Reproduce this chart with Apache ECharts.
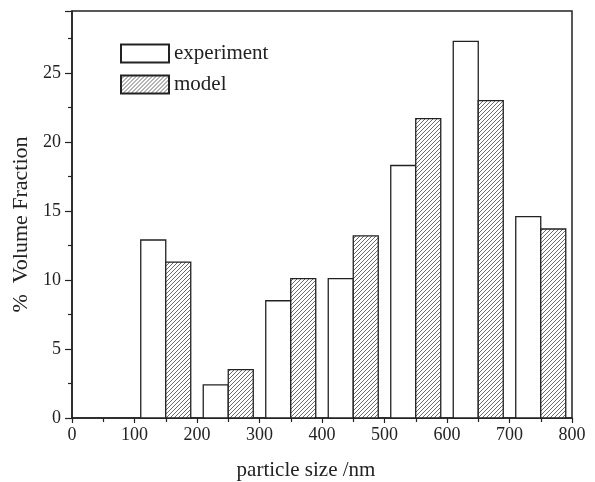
<!DOCTYPE html>
<html>
<head>
<meta charset="utf-8">
<script src="https://cdn.jsdelivr.net/npm/echarts@6/dist/echarts.min.js"></script>
<style>
  html, body { margin: 0; padding: 0; background: #fff; }
  #chart { width: 595px; height: 482px; }
</style>
</head>
<body>
<div id="chart"></div>
<script>
// Size bins (nm): each bin holds an experiment bar on its left, a model bar on its right
const binCenters = [150, 250, 350, 450, 550, 650, 750];
const halfWidth = 40;
const experiment = [12.9, 2.4, 8.5, 10.1, 18.3, 27.3, 14.6];
const model = [11.3, 3.5, 10.1, 13.2, 21.7, 23.0, 13.7];
const xTicks = [0, 100, 200, 300, 400, 500, 600, 700, 800];
const yTicks = [0, 5, 10, 15, 20, 25];

// Diagonal hatch fill for the model bars
function hatchPattern() {
  const s = 4;
  const c = document.createElement('canvas');
  c.width = s; c.height = s;
  const g = c.getContext('2d');
  g.fillStyle = '#fff';
  g.fillRect(0, 0, s, s);
  g.strokeStyle = '#444';
  g.lineWidth = 0.8;
  g.beginPath();
  g.moveTo(-1, s + 1); g.lineTo(s + 1, -1);
  g.moveTo(-1, 1); g.lineTo(1, -1);
  g.moveTo(s - 1, s + 1); g.lineTo(s + 1, s - 1);
  g.stroke();
  return { image: c, repeat: 'repeat' };
}
const hatch = hatchPattern();

const expData = binCenters.map((c, i) => [c - halfWidth, c, experiment[i]]);
const modelData = binCenters.map((c, i) => [c, c + halfWidth, model[i]]);

function renderBar(params, api) {
  const base = api.coord([api.value(0), 0]);
  const top = api.coord([api.value(1), api.value(2)]);
  return {
    type: 'rect',
    shape: { x: base[0], y: top[1], width: top[0] - base[0], height: base[1] - top[1] },
    style: api.style()
  };
}

const font = 'Liberation Serif';
const ink = '#222';
const chart = echarts.init(document.getElementById('chart'));
chart.setOption({
  animation: false,
  backgroundColor: '#fff',
  textStyle: { fontFamily: font, color: ink },
  grid: {
    left: 72, right: 23, top: 11, bottom: 64,
    outerBoundsMode: 'none',
    containLabel: false,
    show: true, borderColor: ink, borderWidth: 1.5, backgroundColor: 'transparent'
  },
  legend: {
    orient: 'vertical',
    left: 115, top: 38,
    itemWidth: 48, itemHeight: 18, itemGap: 10,
    icon: 'rect',
    textStyle: { fontFamily: font, fontSize: 21, color: ink },
    data: ['experiment', 'model']
  },
  xAxis: {
    type: 'value',
    min: xTicks[0], max: xTicks[xTicks.length - 1], interval: 100,
    name: 'particle size /nm',
    nameLocation: 'middle', nameGap: 42,
    nameTextStyle: { fontFamily: font, fontSize: 21, color: ink, padding: [0, 32, 0, 0] },
    axisLine: { show: true, lineStyle: { color: ink, width: 1.5 } },
    axisTick: { show: true, length: 5, lineStyle: { color: ink, width: 1.2 } },
    minorTick: { show: true, splitNumber: 2, length: 4, lineStyle: { color: ink, width: 1.2 } },
    axisLabel: { fontFamily: font, fontSize: 18, color: ink, margin: 8 },
    splitLine: { show: false }
  },
  yAxis: {
    type: 'value',
    min: yTicks[0], max: 29.5, interval: 5,
    name: '%  Volume Fraction',
    nameLocation: 'middle', nameGap: 40,
    nameTextStyle: { fontFamily: font, fontSize: 22, color: ink, padding: [0, 20, 0, 0] },
    axisLine: { show: true, lineStyle: { color: ink, width: 1.5 } },
    axisTick: { show: true, length: 7, lineStyle: { color: ink, width: 1.2 } },
    minorTick: { show: true, splitNumber: 2, length: 4, lineStyle: { color: ink, width: 1.2 } },
    axisLabel: {
      fontFamily: font, fontSize: 18, color: ink, margin: 11,
      formatter: v => (yTicks.indexOf(v) >= 0 ? String(v) : '')
    },
    splitLine: { show: false }
  },
  series: [
    {
      name: 'experiment',
      type: 'custom',
      renderItem: renderBar,
      encode: { x: [0, 1], y: 2 },
      itemStyle: { color: '#fff', borderColor: ink, borderWidth: 1.3 },
      data: expData
    },
    {
      name: 'model',
      type: 'custom',
      renderItem: renderBar,
      encode: { x: [0, 1], y: 2 },
      itemStyle: { color: hatch, borderColor: ink, borderWidth: 1.3 },
      data: modelData
    }
  ]
});
</script>
</body>
</html>
